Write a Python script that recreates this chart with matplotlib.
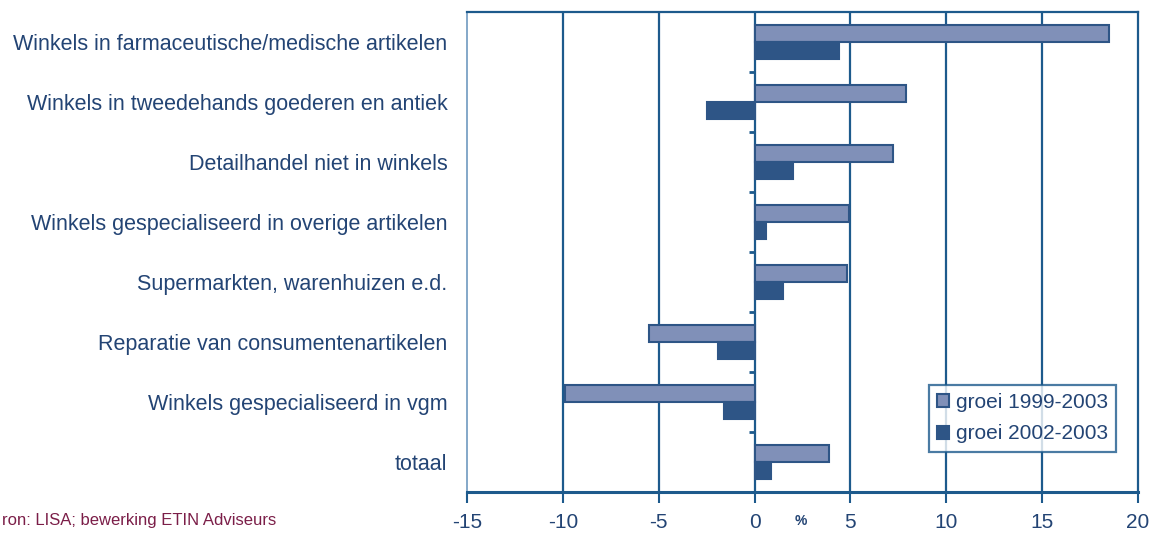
import matplotlib
matplotlib.use("Agg")
import matplotlib.pyplot as plt
import numpy as np

categories = [
    "Winkels in farmaceutische/medische artikelen",
    "Winkels in tweedehands goederen en antiek",
    "Detailhandel niet in winkels",
    "Winkels gespecialiseerd in overige artikelen",
    "Supermarkten, warenhuizen e.d.",
    "Reparatie van consumentenartikelen",
    "Winkels gespecialiseerd in vgm",
    "totaal",
]
groei_1999_2003 = [18.5, 7.9, 7.2, 4.9, 4.8, -5.5, -9.9, 3.9]
groei_2002_2003 = [4.4, -2.5, 2.0, 0.6, 1.5, -1.9, -1.6, 0.85]
xticks = [-15, -10, -5, 0, 5, 10, 15, 20]
series_names = ["groei 1999-2003", "groei 2002-2003"]
source_text = "ron: LISA; bewerking ETIN Adviseurs"

text_col = "#234474"
line_col = "#1d5a8c"
light_col = "#8090b8"
dark_col = "#2e5586"

plt.rcParams["font.family"] = ["Liberation Sans", "DejaVu Sans"]

fig = plt.figure(figsize=(11.51, 5.34), dpi=100)
ax = fig.add_axes([467/1151, 1-492/534, (1138-467)/1151, (492-12)/534])

y = np.arange(len(categories))
h = 0.29
ax.barh(y - h/2, groei_1999_2003, height=h, color=light_col, edgecolor=dark_col,
        linewidth=1.5, label=series_names[0], zorder=3)
ax.barh(y + h/2, groei_2002_2003, height=h, color=dark_col, edgecolor=dark_col,
        linewidth=1.5, label=series_names[1], zorder=3)

ax.set_xlim(-15, 20)
ax.set_ylim(len(categories) - 0.5, -0.5)
ax.set_xticks(xticks)
ax.set_xticklabels([str(t) for t in xticks])
for t in xticks[1:-1]:
    ax.axvline(t, color=line_col, linewidth=1.6, zorder=1)

# small ticks on the zero line between categories
bounds = np.arange(len(categories) + 1) - 0.5
ax.hlines(bounds[1:-1], -0.3, 0, color=line_col, linewidth=2.0, zorder=2)

ax.set_yticks(y)
ax.set_yticklabels(categories)
ax.tick_params(axis="y", length=0, pad=14, labelsize=15.5, labelcolor=text_col)
ax.tick_params(axis="x", length=8, width=1.5, color=line_col, pad=7,
               labelsize=15, labelcolor=text_col)

for side in ["top", "right", "bottom"]:
    ax.spines[side].set_color(line_col)
    ax.spines[side].set_linewidth(1.6)
ax.spines["left"].set_color("#6f9ac0")
ax.spines["left"].set_linewidth(1.2)
ax.spines["bottom"].set_linewidth(2.2)

ax.text(2.4, -0.045, "%", transform=ax.get_xaxis_transform(), ha="center", va="top",
        fontsize=10, color=text_col, fontweight="bold")

leg = ax.legend(loc="lower right", bbox_to_anchor=(0.983, 0.062), fontsize=15,
                frameon=True, fancybox=False, handlelength=0.6, handleheight=0.6,
                handletextpad=0.3, borderpad=0.4, labelspacing=0.6,
                labelcolor=text_col)
leg.get_frame().set_edgecolor(line_col)
leg.get_frame().set_linewidth(1.6)

fig.text(2/1151, 1-521/534, source_text, ha="left", va="center", fontsize=12,
         color="#7b1e48", family=["Liberation Sans Narrow", "Liberation Sans", "DejaVu Sans"])

fig.savefig("out.png", dpi=100)
